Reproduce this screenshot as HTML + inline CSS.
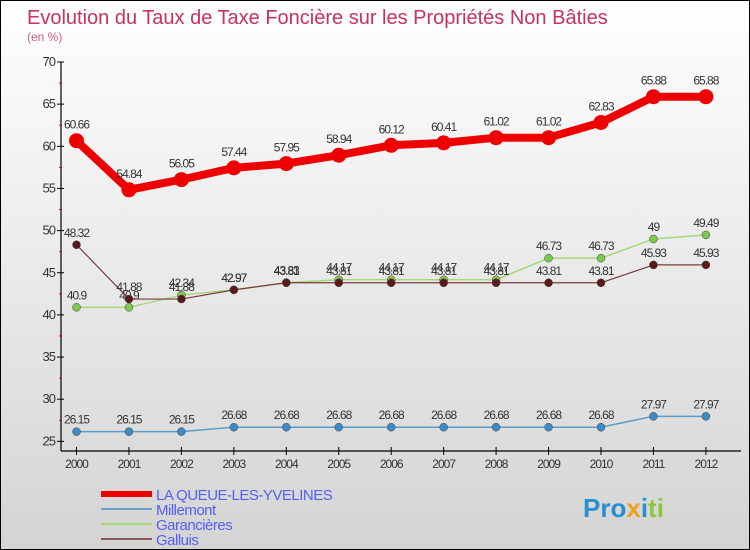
<!DOCTYPE html>
<html><head><meta charset="utf-8"><style>
body{margin:0}
#c{width:750px;height:550px;position:relative;box-sizing:border-box;border:1px solid #000;background:linear-gradient(#ffffff,#d4d4d4);font-family:"Liberation Sans",sans-serif;overflow:hidden}
svg text{font-family:"Liberation Sans",sans-serif}
</style></head><body>
<div id="c">
<svg id="s" width="750" height="550">
<text x="26" y="23" font-size="20" fill="#c8325e">Evolution du Taux de Taxe Foncière sur les Propriétés Non Bâties</text>
<text x="26" y="40" font-size="12" fill="#d05a80">(en %)</text>
<text x="582" y="516" font-size="26" font-weight="bold" fill="#2a8fd0">Pro<tspan fill="#f0a020">x</tspan>i<tspan fill="#8cc63f">ti</tspan></text>
</svg>
</div>
<script>
const years=[2000,2001,2002,2003,2004,2005,2006,2007,2008,2009,2010,2011,2012];
const yTicks=[25,30,35,40,45,50,55,60,65,70];
const queue=[60.66,54.84,56.05,57.44,57.95,58.94,60.12,60.41,61.02,61.02,62.83,65.88,65.88];
const millemont=[26.15,26.15,26.15,26.68,26.68,26.68,26.68,26.68,26.68,26.68,26.68,27.97,27.97];
const garancieres=[40.9,40.9,42.34,42.97,43.83,44.17,44.17,44.17,44.17,46.73,46.73,49,49.49];
const galluis=[48.32,41.88,41.88,42.97,43.81,43.81,43.81,43.81,43.81,43.81,43.81,45.93,45.93];
const names=["LA QUEUE-LES-YVELINES","Millemont","Garancières","Galluis"];
const NS="http://www.w3.org/2000/svg",s=document.getElementById('s');
const X=i=>75.5+i*52.45, Y=v=>61+(70-v)*8.43;
function mk(t,a,p){const e=document.createElementNS(NS,t);for(const k in a)e.setAttribute(k,a[k]);(p||s).appendChild(e);return e;}
// axes
let ax=mk('line',{x1:60,y1:Y(70),x2:60,y2:450,stroke:'#000','stroke-width':1.2});


let bx=mk('line',{x1:60,y1:450,x2:740,y2:450,stroke:'#000','stroke-width':1.2});


yTicks.forEach(v=>{
 mk('line',{x1:56,y1:Y(v),x2:63,y2:Y(v),stroke:'#000'});
 if(v<70)mk('line',{x1:58,y1:Y(v+2.5),x2:61,y2:Y(v+2.5),stroke:'#e00'});
 let t=mk('text',{x:54,y:Y(v)+4,'text-anchor':'end','font-size':13,fill:'#333','letter-spacing':'-1'});t.textContent=v;
 
 
});
years.forEach((y,i)=>{
 mk('line',{x1:X(i),y1:446,x2:X(i),y2:454,stroke:'#000'});
 let t=mk('text',{x:X(i),y:467,'text-anchor':'middle','font-size':12,fill:'#333','letter-spacing':'-1'});t.textContent=y;
 
 
});
const series=[[millemont,'#5b9bc8','#3d8ac4',1.5,4,'millemont'],[garancieres,'#a6d87a','#7ec850',1.5,4,'garancieres'],[galluis,'#7a3b3b','#5a1a1a',1.2,4,'galluis'],[queue,'#ee0000','#ee0000',8,7.5,'la-queue']];
series.forEach(([d,lc,pc,w,r,n])=>{
 let pl=mk('polyline',{points:d.map((v,i)=>X(i)+','+Y(v)).join(' '),fill:'none',stroke:lc,'stroke-width':w,'stroke-linejoin':'round'});
 
 
 d.forEach((v,i)=>{
  let c=mk('circle',{cx:X(i),cy:Y(v),r:r,fill:pc,stroke:n=='la-queue'?'none':'#444','stroke-width':0.5});
  
  
  let t=mk('text',{x:X(i),y:Y(v)-(n=='la-queue'?12:8),'text-anchor':'middle','font-size':12,fill:'#333','letter-spacing':'-1'});t.textContent=v;
  
  
 });
});
const lc=['#ee0000','#6aa0c8','#a6d87a','#8a5a5a'],lw=[6,2,2,2];
names.forEach((nm,i)=>{
 let y=493+i*15;
 let l=mk('line',{x1:100,y1:y,x2:151,y2:y,stroke:lc[i],'stroke-width':lw[i]});
 
 
 let t=mk('text',{x:155,y:y+6,'font-size':15,fill:'#5560ee','letter-spacing':'-0.5'});t.textContent=nm;
 
 
});
</script>
</body></html>
